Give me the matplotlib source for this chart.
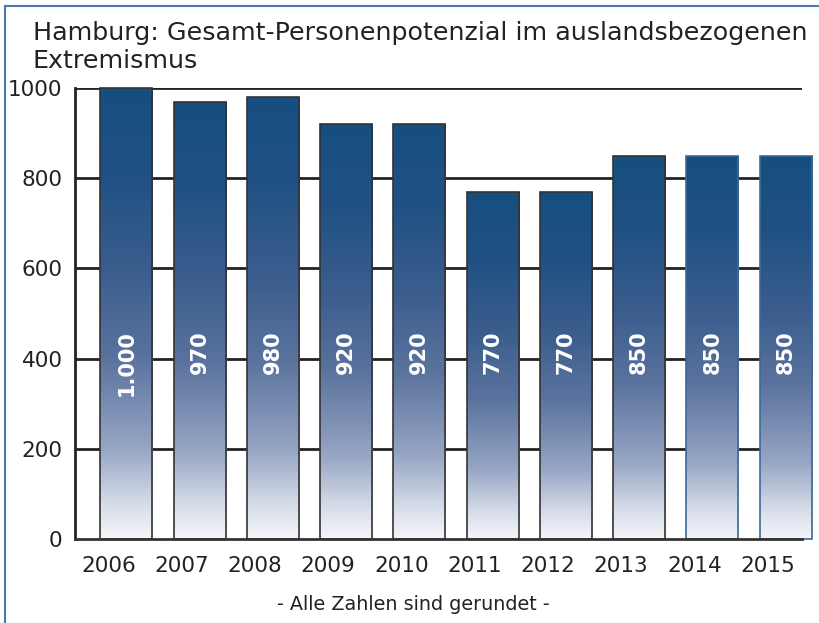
import matplotlib
matplotlib.use("Agg")
import matplotlib.pyplot as plt
import numpy as np
from matplotlib.colors import LinearSegmentedColormap
from matplotlib.lines import Line2D
from matplotlib.transforms import ScaledTranslation

years = ["2006", "2007", "2008", "2009", "2010", "2011", "2012", "2013", "2014", "2015"]
values = [1000, 970, 980, 920, 920, 770, 770, 850, 850, 850]
bar_labels = ["1.000", "970", "980", "920", "920", "770", "770", "850", "850", "850"]
yticks = [0, 200, 400, 600, 800, 1000]
title = "Hamburg: Gesamt-Personenpotenzial im auslandsbezogenen\nExtremismus"
footnote = "- Alle Zahlen sind gerundet -"

plt.rcParams['font.family'] = ['DejaVu Sans']

fig = plt.figure(figsize=(8.2, 6.23), dpi=100)
ax = fig.add_axes([75/820, (623-539)/623, (802-75)/820, (539-88)/623])

cmap = LinearSegmentedColormap.from_list("bargrad", [
    (0.0, "#f5f6fa"), (0.08, "#d5dbe8"), (0.2, "#97a6c4"), (0.4, "#5b739e"),
    (0.6, "#3a5d8d"), (0.8, "#215184"), (1.0, "#164e80")], N=1024)
grad = np.linspace(0, 1, 1024).reshape(-1, 1)

x = np.arange(len(years))
width = 0.71
edgecolors = ["#333333"] * 8 + ["#3a6a9a"] * 2
bars = ax.bar(x, values, width=width, color="none", edgecolor=edgecolors,
              linewidth=1.2, zorder=3, clip_on=False)
for b in bars:
    x0, w, h = b.get_x(), b.get_width(), b.get_height()
    im = ax.imshow(grad, cmap=cmap, origin="lower", aspect="auto",
                   extent=(x0, x0 + w, 0, h), zorder=2, interpolation="none",
                   vmin=0, vmax=1)
    im.set_clip_path(b)

for xi, lab in zip(x, bar_labels):
    ax.text(xi, 463, lab, rotation=90, ha="center", va="top", color="white",
            fontsize=15, fontweight="bold", zorder=4)

for yv in yticks[1:]:
    ax.axhline(yv, color="#222222", linewidth=2, zorder=1)

ax.set_xlim(-0.70, 9.225)
ax.set_ylim(0, 1000)
ax.set_yticks(yticks)
ax.set_yticklabels([str(v) for v in yticks])
ax.set_xticks(x)
ax.set_xticklabels(years)
ax.tick_params(axis="both", length=0, labelsize=15.5, colors="#222222")
ax.tick_params(axis="y", pad=9)
ax.tick_params(axis="x", pad=12)
shift = ScaledTranslation(-18/100, 0, fig.dpi_scale_trans)
for lbl in ax.get_xticklabels():
    lbl.set_transform(lbl.get_transform() + shift)
for s in ["top", "right"]:
    ax.spines[s].set_visible(False)
ax.spines["left"].set_linewidth(2)
ax.spines["left"].set_color("#222222")
ax.spines["bottom"].set_linewidth(2)
ax.spines["bottom"].set_color("#333333")
ax.spines["bottom"].set_zorder(5)

fig.text(33/820, 1 - 21/623, title, ha="left", va="top", fontsize=18.3,
         color="#222222", linespacing=1.22)
fig.text(413/820, 1 - 605/623, footnote, ha="center", va="center",
         fontsize=13.8, color="#222222")

# figure frame (left and top)
fig.add_artist(Line2D([5.5/820, 5.5/820], [0, 1 - 6/623], transform=fig.transFigure,
                      color="#4a7aaa", linewidth=1.5))
fig.add_artist(Line2D([5.5/820, 1], [1 - 6/623, 1 - 6/623], transform=fig.transFigure,
                      color="#4a7aaa", linewidth=1.5))

fig.savefig("out.png", dpi=100)
